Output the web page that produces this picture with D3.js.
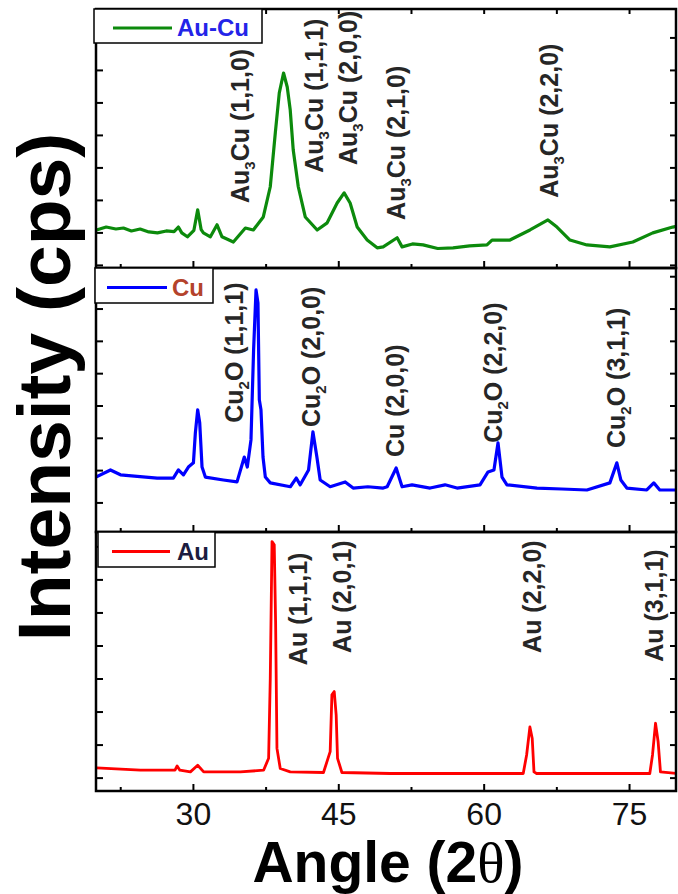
<!DOCTYPE html>
<html lang="en">
  <head>
    <meta charset="UTF-8"/>
    <title>XRD patterns</title>
    <script src="https://d3js.org/d3.v7.min.js"></script>
    <style>
      body { margin: 0; background: #fff; }
      text { font-family: 'Liberation Sans', Arial, sans-serif; }
      .frame { fill: none; stroke: #000; stroke-width: 2.5; }
      .tick { stroke: #000; stroke-width: 2; }
      .peak-label { font-size: 25px; font-weight: bold; fill: #262626; }
      .tick-label { font-size: 32px; fill: #111; }
      .axis-title { font-weight: bold; fill: #000; }
      .legend-box { fill: #fff; stroke: #000; stroke-width: 1.5; }
      .legend-text { font-size: 24px; font-weight: bold; }
    </style>
  </head>
  <body>
    <script>

      // x axis (2 theta, degrees)
      const angleDomain = [20, 80]
      const majorAngles = [30, 45, 60, 75]
      const minorAngles = [22.5, 37.5, 52.5, 67.5]

      // Au-Cu pattern (top panel)
      const auCuAngle = [20.0, 21.0, 22.0, 22.78, 23.6, 24.5, 25.4, 26.29, 27.2, 28.0, 28.45, 28.8, 29.38, 30.05, 30.44, 30.8, 31.03, 31.75, 32.44, 32.95, 34.12, 35.36, 36.18, 37.21, 37.93, 38.45, 38.86, 39.30, 39.68, 39.99, 40.30, 40.82, 41.54, 42.77, 43.80, 44.83, 45.55, 46.17, 46.90, 47.93, 48.96, 49.58, 51.02, 51.53, 52.6, 53.70, 55.2, 56.79, 58.5, 60.29, 60.81, 62.66, 64.73, 66.58, 67.51, 68.85, 70.60, 72.97, 75.34, 77.40, 79.46, 80.0]
      const auCuCps   = [109, 118, 112, 115, 106, 112, 103, 100, 106, 104, 118, 100, 88, 108, 171, 110, 100, 88, 125, 88, 72, 115, 109, 149, 242, 408, 531, 592, 549, 478, 355, 242, 149, 109, 131, 192, 223, 192, 118, 78, 54, 57, 85, 57, 66, 63, 52, 54, 60, 63, 78, 78, 109, 140, 118, 78, 63, 57, 72, 100, 118, 121]
      const auCuTicks = [0, 100, 200, 300, 400, 500, 600, 700]
      const auCuRange = [-8, 789]
      const auCuLabels = ["Au_3Cu (1,1,0)", "Au_3Cu (1,1,1)", "Au_3Cu (2,0,0)", "Au_3Cu (2,1,0)", "Au_3Cu (2,2,0)"]
      const auCuLabelAngle = [35.77, 43.4, 46.9, 51.84, 67.6]
      const auCuLabelCps = [192, 285, 309, 140, 208]

      // Cu pattern (middle panel)
      const cuAngle = [20.0, 21.44, 22.47, 24.2, 26.26, 27.93, 28.45, 28.97, 29.48, 30.00, 30.20, 30.44, 30.65, 30.89, 31.23, 33.09, 34.50, 35.25, 35.56, 35.94, 36.21, 36.46, 36.66, 36.80, 36.97, 37.18, 37.42, 37.93, 40.00, 40.61, 41.02, 41.88, 42.33, 42.74, 43.08, 44.11, 45.66, 46.48, 48.0, 49.58, 49.99, 50.92, 51.53, 52.56, 54.42, 55.96, 57.20, 59.57, 60.40, 61.01, 61.43, 61.84, 62.35, 65.45, 68.0, 70.60, 72.97, 73.69, 74.10, 74.72, 76.78, 77.50, 78.12, 80.0]
      const cuCps   = [181, 202, 187, 182, 177, 177, 202, 187, 211, 224, 317, 388, 348, 211, 180, 171, 165, 242, 211, 295, 574, 759, 719, 419, 388, 242, 180, 162, 150, 177, 156, 202, 320, 242, 171, 150, 165, 146, 150, 146, 150, 208, 150, 156, 146, 156, 146, 156, 196, 202, 286, 180, 156, 146, 143, 140, 162, 224, 171, 146, 140, 162, 140, 140]
      const cuTicks = [100, 200, 300, 400, 500, 600, 700, 800]
      const cuRange = [10, 827]
      const cuLabels = ["Cu_2O (1,1,1)", "Cu_2O (2,0,0)", "Cu (2,0,0)", "Cu_2O (2,2,0)", "Cu_2O (3,1,1)"]
      const cuLabelAngle = [35.15, 43.08, 51.74, 61.84, 74.5]
      const cuLabelCps = [348, 335, 242, 286, 270]

      // Au pattern (bottom panel)
      const auAngle = [20.0, 24.53, 28.10, 28.32, 28.60, 29.69, 30.44, 31.06, 34.84, 37.24, 37.76, 37.93, 38.11, 38.34, 38.48, 38.62, 38.96, 39.99, 43.42, 44.11, 44.29, 44.53, 44.73, 44.87, 45.32, 50.30, 64.03, 64.38, 64.72, 64.96, 65.14, 65.41, 77.09, 77.37, 77.68, 77.95, 78.19, 80.0]
      const auCps   = [31, 24, 24, 37, 24, 19, 39, 19, 19, 24, 60, 302, 716, 706, 474, 90, 29, 19, 17, 80, 252, 262, 191, 60, 17, 14, 14, 70, 155, 120, 19, 14, 14, 70, 166, 110, 19, 14]
      const auTicks = [0, 100, 200, 300, 400, 500, 600, 700]
      const auRange = [-39, 745]
      const auLabels = ["Au (1,1,1)", "Au (2,0,1)", "Au (2,2,0)", "Au (3,1,1)"]
      const auLabelAngle = [41.74, 46.28, 65.86, 78.43]
      const auLabelCps = [342, 379, 379, 352]

      const W = 678, H = 894
      const frameLeft = 96, frameRight = 676

      const svg = d3.select("body").append("svg")
          .attr("width", W)
          .attr("height", H)

      const x = d3.scaleLinear().domain(angleDomain).range([96.5, 678])

      const panels = [
        {name: "Au-Cu", angle: auCuAngle, cps: auCuCps, range: auCuRange, ticks: auCuTicks,
         labels: auCuLabels, labelAngle: auCuLabelAngle, labelCps: auCuLabelCps,
         color: "#0c8a0c", width: 3.2, textColor: "#2424e8", top: 9, bottom: 268,
         legend: {x0: 94, x1: 262, y0: 9, y1: 43, l0: 113, l1: 172, tx: 177}},
        {name: "Cu", angle: cuAngle, cps: cuCps, range: cuRange, ticks: cuTicks,
         labels: cuLabels, labelAngle: cuLabelAngle, labelCps: cuLabelCps,
         color: "#0000ff", width: 3.2, textColor: "#b4432c", top: 268, bottom: 532,
         legend: {x0: 95, x1: 213, y0: 268, y1: 303, l0: 107, l1: 167, tx: 172}},
        {name: "Au", angle: auAngle, cps: auCps, range: auRange, ticks: auTicks,
         labels: auLabels, labelAngle: auLabelAngle, labelCps: auLabelCps,
         color: "#ff0000", width: 2.8, textColor: "#1c1c40", top: 532, bottom: 791,
         legend: {x0: 98, x1: 215, y0: 532, y1: 567, l0: 112, l1: 170, tx: 177}}
      ]

      // write "Au_3Cu" style labels with a subscript
      const addLabelText = (t, str) => {
        const parts = str.split(/_(\d)/)
        parts.forEach((p, i) => {
          if (i % 2 === 1) {
            t.append("tspan").attr("font-size", "15px").attr("dy", 6).text(p)
          } else if (p.length) {
            t.append("tspan").attr("dy", i ? -6 : 0).text(p)
          }
        })
      }

      panels.forEach((p, pi) => {
        const y = d3.scaleLinear().domain(p.range).range([p.bottom, p.top])
        const g = svg.append("g")

        const pts = p.angle.map((a, i) => [a, p.cps[i]])
        const line = d3.line().x(d => x(d[0])).y(d => y(d[1]))

        g.append("clipPath").attr("id", "clip" + pi)
          .append("rect")
            .attr("x", frameLeft).attr("y", p.top)
            .attr("width", frameRight - frameLeft).attr("height", p.bottom - p.top)

        g.append("path")
            .datum(pts)
            .attr("clip-path", `url(#clip${pi})`)
            .attr("fill", "none")
            .attr("stroke", p.color)
            .attr("stroke-width", p.width)
            .attr("stroke-linejoin", "round")
            .attr("d", line)

        // peak labels, rotated to read upwards
        p.labels.forEach((lab, i) => {
          const t = g.append("text")
              .attr("class", "peak-label")
              .attr("transform", `translate(${x(p.labelAngle[i])},${y(p.labelCps[i])}) rotate(-90)`)
          addLabelText(t, lab)
        })

        g.append("rect")
            .attr("class", "frame")
            .attr("x", frameLeft).attr("y", p.top)
            .attr("width", frameRight - frameLeft).attr("height", p.bottom - p.top)

        // inward ticks on bottom edge (and top edge for first panel)
        const xt = majorAngles.map(a => ({a, len: 7})).concat(minorAngles.map(a => ({a, len: 4})))
        g.selectAll(".xtick").data(xt).join("line")
            .attr("class", "tick")
            .attr("x1", d => x(d.a)).attr("x2", d => x(d.a))
            .attr("y1", p.bottom).attr("y2", d => p.bottom - d.len)
        if (pi === 0) {
          g.selectAll(".xtop").data(xt).join("line")
              .attr("class", "tick")
              .attr("x1", d => x(d.a)).attr("x2", d => x(d.a))
              .attr("y1", p.top).attr("y2", p.top + 5)
        }

        // inward ticks on left and right edges
        g.selectAll(".yl").data(p.ticks).join("line")
            .attr("class", "tick")
            .attr("x1", frameLeft).attr("x2", frameLeft + 7)
            .attr("y1", d => y(d)).attr("y2", d => y(d))
        g.selectAll(".yr").data(p.ticks).join("line")
            .attr("class", "tick")
            .attr("x1", frameRight).attr("x2", frameRight - 6)
            .attr("y1", d => y(d)).attr("y2", d => y(d))

        // legend
        const L = p.legend
        g.append("rect")
            .attr("class", "legend-box")
            .attr("x", L.x0).attr("y", L.y0)
            .attr("width", L.x1 - L.x0).attr("height", L.y1 - L.y0)
        const ly = (L.y0 + L.y1) / 2 + 2
        g.append("line")
            .attr("x1", L.l0).attr("x2", L.l1)
            .attr("y1", ly).attr("y2", ly)
            .attr("stroke", p.color).attr("stroke-width", 3)
        g.append("text")
            .attr("class", "legend-text")
            .attr("x", L.tx).attr("y", ly + 8)
            .attr("fill", p.textColor)
            .text(p.name)
      })

      // x tick labels under the bottom panel
      svg.selectAll(".tick-label").data(majorAngles).join("text")
          .attr("class", "tick-label")
          .attr("x", d => x(d))
          .attr("y", 825)
          .attr("text-anchor", "middle")
          .text(d => d)

      // axis titles
      const xTitle = svg.append("text")
          .attr("class", "axis-title")
          .attr("x", 388)
          .attr("y", 882)
          .attr("text-anchor", "middle")
          .attr("font-size", "57px")
      xTitle.append("tspan").text("Angle (2")
      xTitle.append("tspan").attr("font-family", "'Liberation Serif', serif").attr("font-weight", "normal").text("θ")
      xTitle.append("tspan").text(")")

      svg.append("text")
          .attr("class", "axis-title")
          .attr("transform", "translate(70,387) rotate(-90)")
          .attr("text-anchor", "middle")
          .attr("font-size", "75px")
          .text("Intensity (cps)")

    </script>
  </body>
</html>
